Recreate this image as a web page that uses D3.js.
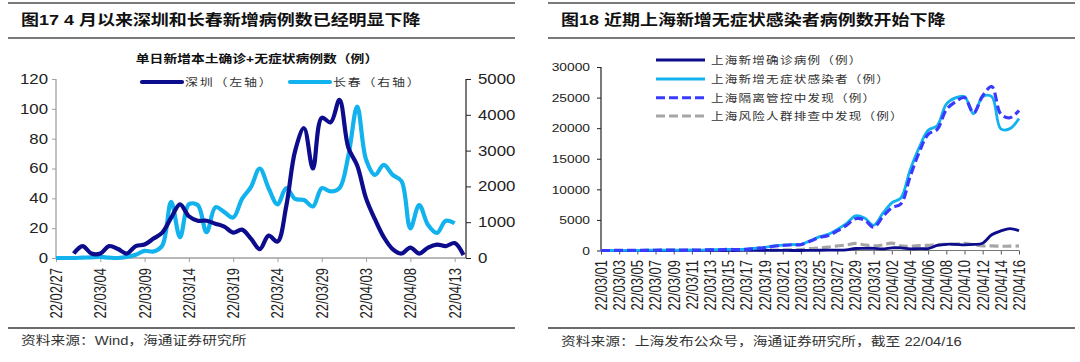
<!DOCTYPE html>
<html>
<head>
<meta charset="utf-8">
<script src="https://cdn.jsdelivr.net/npm/d3@7"></script>
<style>
body { margin: 0; background: #fff; }
svg { display: block; background: #fff; }
</style>
</head>
<body>
<svg width="1080" height="362"></svg>
<script>
// ---- data ----
var szDates = ['22/02/27','22/02/28',
  '22/03/01','22/03/02','22/03/03','22/03/04','22/03/05','22/03/06','22/03/07','22/03/08','22/03/09','22/03/10',
  '22/03/11','22/03/12','22/03/13','22/03/14','22/03/15','22/03/16','22/03/17','22/03/18','22/03/19','22/03/20',
  '22/03/21','22/03/22','22/03/23','22/03/24','22/03/25','22/03/26','22/03/27','22/03/28','22/03/29','22/03/30','22/03/31',
  '22/04/01','22/04/02','22/04/03','22/04/04','22/04/05','22/04/06','22/04/07','22/04/08','22/04/09','22/04/10',
  '22/04/11','22/04/12','22/04/13','22/04/14'];
var shenzhen = [null, null, 3, 8, 3, 3, 8, 6, 3, 8, 9, 13, 17, 27, 36, 28, 25, 25, 23, 21, 17, 19, 13, 6, 15, 11,
  35, 72, 87, 60, 94, 91, 106, 74, 62, 40, 26, 14, 6, 3, 7, 3, 7, 9, 8, 10, 2];
var changchun = [0, 0, 0, 10, 20, 30, 10, 0, 30, 90, 200, 180, 350, 1570, 580, 1500, 1480, 720, 1420, 1280, 1130,
  1650, 1980, 2500, 1950, 1500, 1950, 1650, 1620, 1440, 1950, 1860, 1950, 2850, 4230, 2750, 2320, 2600, 2320, 2150,
  830, 1480, 920, 700, 1040, 970, null];
var leftTicks = [0, 20, 40, 60, 80, 100, 120];
var rightTicks = [0, 1000, 2000, 3000, 4000, 5000];

var shDates = ['22/03/01','22/03/02','22/03/03','22/03/04','22/03/05','22/03/06','22/03/07','22/03/08','22/03/09','22/03/10',
  '22/03/11','22/03/12','22/03/13','22/03/14','22/03/15','22/03/16','22/03/17','22/03/18','22/03/19','22/03/20',
  '22/03/21','22/03/22','22/03/23','22/03/24','22/03/25','22/03/26','22/03/27','22/03/28','22/03/29','22/03/30','22/03/31',
  '22/04/01','22/04/02','22/04/03','22/04/04','22/04/05','22/04/06','22/04/07','22/04/08','22/04/09','22/04/10',
  '22/04/11','22/04/12','22/04/13','22/04/14','22/04/15','22/04/16'];
var shConfirmed = [1, 0, 3, 2, 3, 3, 3, 4, 4, 11, 5, 1, 41, 5, 5, 8, 57, 8, 17, 24, 31, 4, 4, 29, 38, 45, 50, 96, 326, 355, 358,
  260, 438, 425, 268, 311, 322, 824, 1015, 1006, 914, 994, 1189, 2573, 3200, 3590, 3238];
var shAsym = [1, 2, 14, 16, 28, 45, 51, 62, 76, 64, 78, 64, 128, 130, 197, 150, 203, 366, 492, 734, 865, 977, 979, 1582,
  2231, 2631, 3450, 4381, 5656, 5298, 4144,
  6051, 7788, 8581, 13086, 16766, 19660, 20398, 23937, 24944, 25173, 22348, 25141, 25146, 19872, 19923, 21582];
var shControl = [1, 2, 12, 14, 25, 40, 45, 55, 70, 60, 70, 60, 120, 125, 185, 140, 190, 340, 460, 700, 830, 940, 950, 1500,
  2100, 2450, 3200, 4100, 5200, 5000, 3800,
  5500, 7000, 7600, 12000, 16000, 19000, 19800, 23000, 24300, 25000, 22500, 25300, 26800, 22300, 21700, 22900];
var shScreening = [0, 0, 2, 2, 3, 5, 6, 7, 6, 4, 8, 4, 8, 5, 12, 10, 13, 26, 32, 60, 100, 120, 150, 300, 400, 550, 750, 900,
  1150, 900, 750,
  900, 1200, 750, 700, 800, 850, 950, 1000, 1050, 1150, 950, 750, 750, 700, 700, 750];
var shTicks = [0, 5000, 10000, 15000, 20000, 25000, 30000];

var leftLegend = ['深圳（左轴）', '长春（右轴）'];
var rightLegend = ['上海新增确诊病例（例）', '上海新增无症状感染者（例）', '上海隔离管控中发现（例）', '上海风险人群排查中发现（例）'];

// ---- setup ----
var svg = d3.select('svg');
var font = "'Liberation Sans', Arial, 'Noto Sans CJK SC', sans-serif";
var sx = 1.2; // the source picture is stretched sideways
var navy = '#0c0c8c', sky = '#12b2ee', blue = '#3a3aff', grey = '#a6a6a6';
var plain = d3.format('d');

function addText(x, y, str, size, weight, anchor, fill, spacing) {
  return svg.append('text')
    .attr('transform', 'translate(' + [x, y] + ') scale(' + sx + ',1)')
    .attr('font-size', size)
    .attr('font-weight', weight || 'normal')
    .attr('text-anchor', anchor || 'start')
    .attr('fill', fill || '#222')
    .attr('letter-spacing', spacing || 0)
    .style('font-family', font)
    .text(str);
}

function rule(x1, x2, y, w, c) {
  svg.append('line').attr('x1', x1).attr('x2', x2).attr('y1', y).attr('y2', y)
    .attr('stroke', c).attr('stroke-width', w);
}

function styleY(g, size, color) {
  g.select('.domain').remove();
  g.selectAll('line').attr('stroke', color);
  g.selectAll('text')
    .attr('font-size', size)
    .attr('fill', '#222')
    .style('font-family', font)
    .each(function() {
      var t = d3.select(this);
      t.attr('x', +t.attr('x') / sx).attr('transform', 'scale(' + sx + ',1)');
    });
}

function styleX(g, size, color, off) {
  g.select('.domain').remove();
  g.selectAll('line').attr('stroke', color);
  g.selectAll('text')
    .attr('font-size', size)
    .attr('fill', '#222')
    .style('font-family', font)
    .attr('text-anchor', 'end')
    .attr('x', -off).attr('y', 0).attr('dy', '0.35em')
    .attr('transform', 'scale(' + sx + ',1) rotate(-90)');
}

// ---- headers and footers ----
rule(8, 515, 3, 2, '#7a7a7a');
rule(8, 515, 38, 2, '#7a7a7a');
rule(8, 515, 328, 1.5, '#3a3a3a');
rule(548, 1075, 3, 2, '#7a7a7a');
rule(548, 1075, 38, 2, '#7a7a7a');
rule(548, 1075, 328, 1.5, '#3a3a3a');

addText(21, 25, '图17 4 月以来深圳和长春新增病例数已经明显下降', 15, 'bold', 'start', '#111');
addText(561, 25, '图18 近期上海新增无症状感染者病例数开始下降', 15, 'bold', 'start', '#111');
addText(21, 345, '资料来源：Wind，海通证券研究所', 12.3, 'normal', 'start', '#333');
addText(561, 345.5, '资料来源：上海发布公众号，海通证券研究所，截至 22/04/16', 12.3, 'normal', 'start', '#333');

// ---- left chart ----
var xL = d3.scalePoint().domain(szDates).range([56, 463.5]);
var yL = d3.scaleLinear().domain([0, 120]).range([258, 79]);
var yR = d3.scaleLinear().domain([0, 5000]).range([258, 79]);

addText(257, 62.5, '单日新增本土确诊+无症状病例数（例）', 11.5, 'bold', 'middle', '#111');

var yLAxisG = svg.append('g').attr('transform', 'translate(56,0)');
yLAxisG.call(d3.axisLeft(yL).tickValues(leftTicks).tickFormat(plain).tickSize(4).tickPadding(4).tickSizeOuter(0));
styleY(yLAxisG, 14, '#a0a0a0');
var yRAxisG = svg.append('g').attr('transform', 'translate(466,0)');
yRAxisG.call(d3.axisRight(yR).tickValues(rightTicks).tickFormat(plain).tickSize(5).tickPadding(7).tickSizeOuter(0));
styleY(yRAxisG, 14, '#222');
var xLAxisG = svg.append('g').attr('transform', 'translate(0,258)');
xLAxisG.call(d3.axisBottom(xL).tickValues(szDates.filter(function(d, i) { return i % 5 == 0; })).tickSize(4).tickSizeOuter(0));
styleX(xLAxisG, 13, '#a0a0a0', 10);

svg.append('line').attr('x1', 56).attr('x2', 56).attr('y1', 79).attr('y2', 258).attr('stroke', '#a0a0a0').attr('stroke-width', 1.3);
svg.append('line').attr('x1', 56).attr('x2', 466).attr('y1', 258).attr('y2', 258).attr('stroke', '#a0a0a0').attr('stroke-width', 1.3);
svg.append('line').attr('x1', 466).attr('x2', 466).attr('y1', 79).attr('y2', 258).attr('stroke', '#222').attr('stroke-width', 1.2);

var lineSz = d3.line()
  .defined(function(d) { return d != null; })
  .x(function(d, i) { return xL(szDates[i]); })
  .y(function(d) { return yL(d); })
  .curve(d3.curveCatmullRom.alpha(0.5));
var lineCc = d3.line()
  .defined(function(d) { return d != null; })
  .x(function(d, i) { return xL(szDates[i]); })
  .y(function(d) { return yR(d); })
  .curve(d3.curveCatmullRom.alpha(0.5));

svg.append('path').datum(changchun).attr('d', lineCc)
  .attr('fill', 'none').attr('stroke', sky).attr('stroke-width', 4.2).attr('stroke-linejoin', 'round');
svg.append('path').datum(shenzhen).attr('d', lineSz)
  .attr('fill', 'none').attr('stroke', navy).attr('stroke-width', 4.2).attr('stroke-linejoin', 'round');

// left legend
svg.append('line').attr('x1', 142).attr('x2', 182).attr('y1', 82).attr('y2', 82)
  .attr('stroke', navy).attr('stroke-width', 4.2).attr('stroke-linecap', 'round');
addText(185, 86, leftLegend[0], 10.8, 'normal', 'start', '#333', 1.5);
svg.append('line').attr('x1', 290).attr('x2', 330).attr('y1', 82).attr('y2', 82)
  .attr('stroke', sky).attr('stroke-width', 4.2).attr('stroke-linecap', 'round');
addText(333, 86, leftLegend[1], 10.8, 'normal', 'start', '#333', 1.5);

// ---- right chart ----
var xS = d3.scalePoint().domain(shDates).range([601, 1019]);
var yS = d3.scaleLinear().domain([0, 30000]).range([250.5, 67]);

var ySAxisG = svg.append('g').attr('transform', 'translate(601,0)');
ySAxisG.call(d3.axisLeft(yS).tickValues(shTicks).tickFormat(plain).tickSize(4).tickPadding(7).tickSizeOuter(0));
styleY(ySAxisG, 11.5, '#222');
var xSAxisG = svg.append('g').attr('transform', 'translate(0,250.5)');
xSAxisG.call(d3.axisBottom(xS).tickValues(shDates.filter(function(d, i) { return i % 2 == 0; })).tickSize(4).tickSizeOuter(0));
styleX(xSAxisG, 13, '#555', 9.5);

svg.append('line').attr('x1', 601).attr('x2', 601).attr('y1', 67).attr('y2', 250.5).attr('stroke', '#222').attr('stroke-width', 1.2);
svg.append('line').attr('x1', 601).attr('x2', 1019).attr('y1', 250.5).attr('y2', 250.5).attr('stroke', '#777').attr('stroke-width', 1.2);

function shLine(arr) {
  return d3.line()
    .x(function(d, i) { return xS(shDates[i]); })
    .y(function(d) { return yS(d); })
    .curve(d3.curveCatmullRom.alpha(0.5))(arr);
}

var shSeries = [
  { vals: shScreening, color: grey, dash: '9,4', w: 3.2 },
  { vals: shConfirmed, color: navy, dash: null, w: 2.8 },
  { vals: shAsym, color: sky, dash: null, w: 2.8 },
  { vals: shControl, color: blue, dash: '9,4', w: 3.2 }
];
shSeries.forEach(function(s) {
  svg.append('path').attr('d', shLine(s.vals))
    .attr('fill', 'none').attr('stroke', s.color).attr('stroke-width', s.w)
    .attr('stroke-dasharray', s.dash);
});

// right legend
var legColors = [navy, sky, blue, grey];
var legDash = [null, null, '9,4', '9,4'];
var legY = [60, 79, 97.7, 116];
rightLegend.forEach(function(name, i) {
  svg.append('line').attr('x1', 656).attr('x2', 705).attr('y1', legY[i]).attr('y2', legY[i])
    .attr('stroke', legColors[i]).attr('stroke-width', 3).attr('stroke-dasharray', legDash[i]);
  addText(711, legY[i] + 4, name, 10.5, 'normal', 'start', '#333', 1);
});
</script>
</body>
</html>
